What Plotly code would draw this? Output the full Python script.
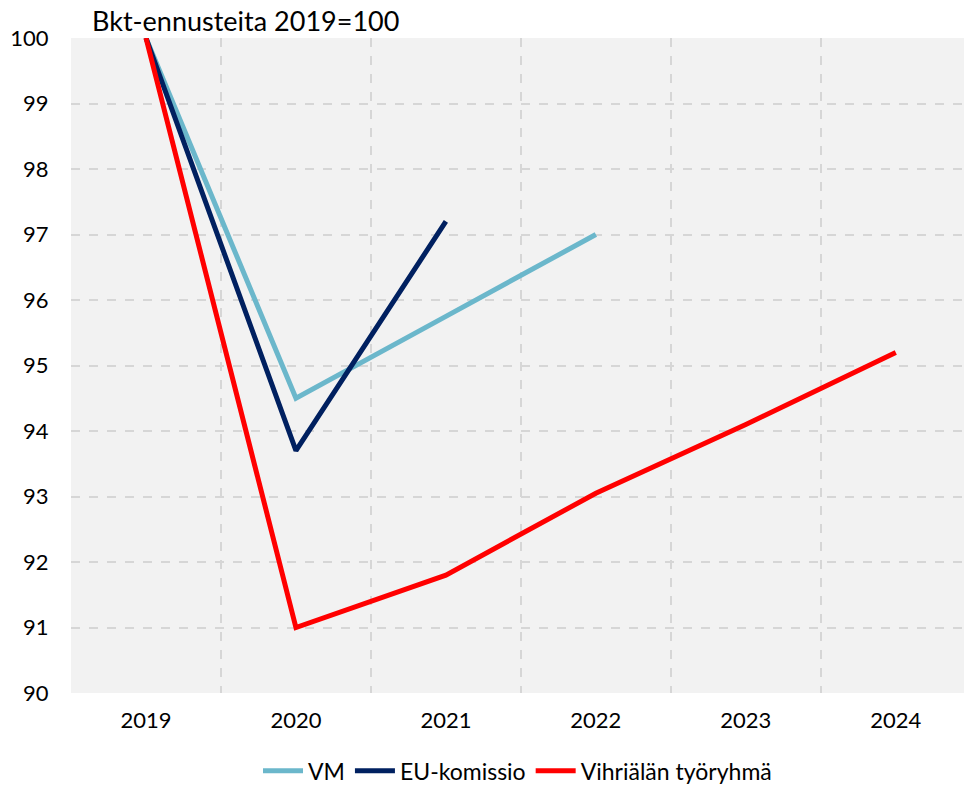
import plotly.graph_objects as go

# GDP forecasts, index 2019 = 100
years = [2019, 2020, 2021, 2022, 2023, 2024]
vm = [100, 94.5, 95.75, 97.0]
eu_komissio = [100, 93.7, 97.2]
vihriala = [100, 91.0, 91.8, 93.05, 94.1, 95.2]

series = [
    ("VM", vm, "#6bb7cb"),
    ("EU-komissio", eu_komissio, "#002060"),
    ("Vihriälän työryhmä", vihriala, "#ff0000"),
]

FONT = "Lato"

fig = go.Figure()
for name, vals, color in series:
    fig.add_trace(go.Scatter(
        x=years[:len(vals)], y=vals, name=name, mode="lines",
        line=dict(color=color, width=5),
    ))

grid = "#d6d6d6"
fig.update_layout(
    width=964, height=792,
    margin=dict(l=71, r=0, t=38, b=99, autoexpand=False),
    paper_bgcolor="white",
    plot_bgcolor="#f2f2f2",
    font=dict(family=FONT, size=22, color="black"),
    showlegend=True,
    legend=dict(orientation="h", x=0.5, xanchor="center", y=-0.086, yanchor="top",
                font=dict(size=23), itemwidth=40, tracegroupgap=0),
    annotations=[dict(text="Bkt-ennusteita 2019=100", xref="paper", yref="paper",
                      x=0.021, y=1.0, xanchor="left", yanchor="bottom", yshift=-1,
                      showarrow=False, font=dict(size=27, family=FONT))],
)
fig.update_xaxes(
    range=[2018.5, 2024.455], tickvals=years, ticktext=[str(y) for y in years],
    showgrid=False, zeroline=False, showline=False, automargin=False,
    ticks="outside", ticklen=8, tickcolor="rgba(0,0,0,0)",
    tickfont=dict(size=22),
    minor=dict(tickvals=[y - 0.5 for y in years], showgrid=True, gridcolor=grid,
               griddash="dash", gridwidth=1.5, ticks=""),
)
fig.update_yaxes(
    range=[90, 100], dtick=1, tick0=90, showgrid=True, gridcolor=grid,
    griddash="dash", gridwidth=1.5, zeroline=False, showline=False, automargin=False,
    ticks="outside", ticklen=17, tickcolor="rgba(0,0,0,0)", tickfont=dict(size=22),
)

fig.write_html("out.html")
